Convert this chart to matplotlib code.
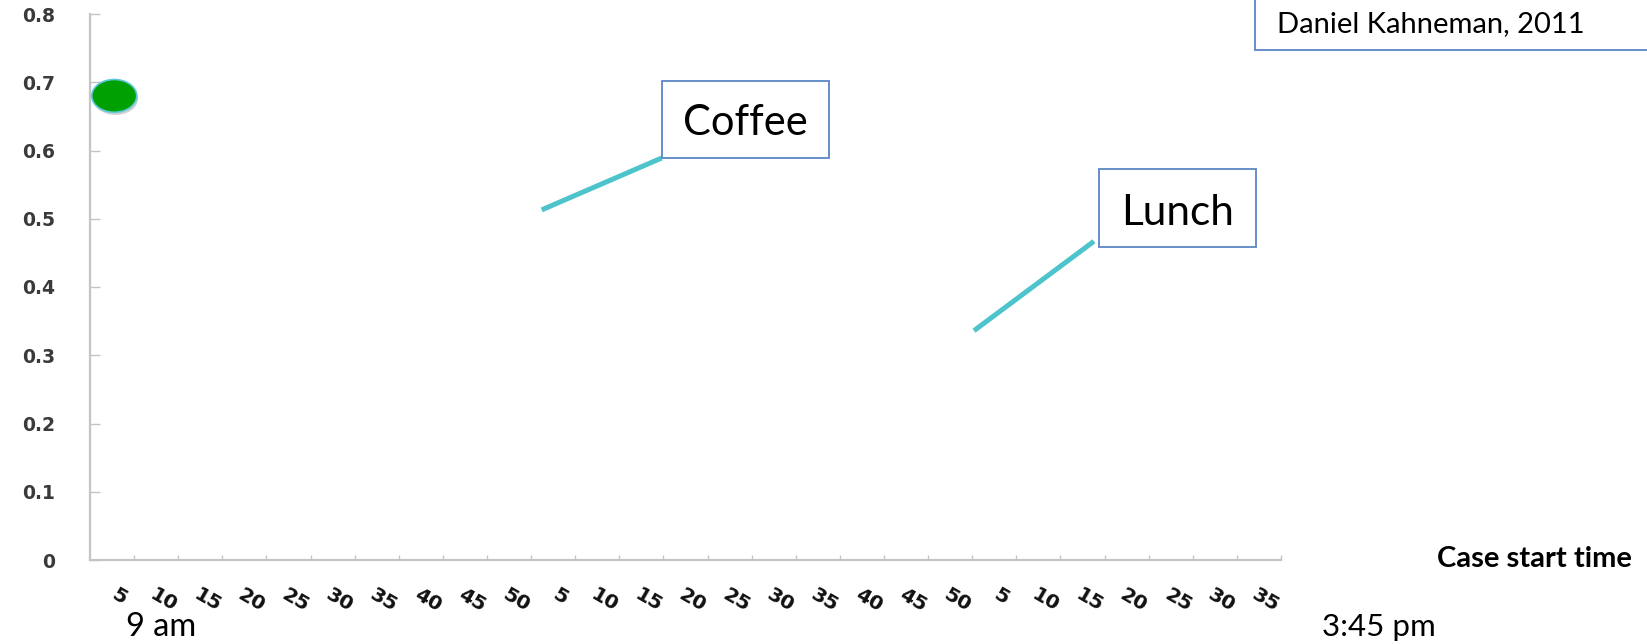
import numpy as np
import matplotlib
matplotlib.use("Agg")
import matplotlib.pyplot as plt
from matplotlib.patches import Ellipse, Rectangle
from matplotlib.transforms import ScaledTranslation

W, H = 1647, 644

# x categories (5-minute steps) and their labels
x_pos = np.arange(1, 28)
x_labels = ["5", "10", "15", "20", "25", "30", "35", "40", "45", "50",
            "5", "10", "15", "20", "25", "30", "35", "40", "45", "50",
            "5", "10", "15", "20", "25", "30", "35"]

y_ticks = [0, 0.1, 0.2, 0.3, 0.4, 0.5, 0.6, 0.7, 0.8]
y_labels = ["0", "0.1", "0.2", "0.3", "0.4", "0.5", "0.6", "0.7", "0.8"]

# start-of-day point
dot_x = [0.55]
dot_y = [0.68]

# callout leader lines
coffee_x = [10.24, 12.96]
coffee_y = [0.513, 0.589]
lunch_x = [20.04, 22.76]
lunch_y = [0.336, 0.467]

calibri = ["Lato", "DejaVu Sans"]
box_col = "#5A86C5"
line_col = "#4DC4CB"
axis_col = "#C4C4C4"


def fx(px):
    return px / W


def fy(py):
    return 1 - py / H


fig = plt.figure(figsize=(W / 100, H / 100), dpi=100)
ax = fig.add_axes([fx(90), fy(560), (1281 - 90) / W, (560 - 14) / H])

ax.set_xlim(0, 27)
ax.set_ylim(0, 0.8)

for side in ["top", "right"]:
    ax.spines[side].set_visible(False)
for side in ["left", "bottom"]:
    ax.spines[side].set_color(axis_col)
    ax.spines[side].set_linewidth(1.6)

ax.set_yticks(y_ticks)
ax.set_yticklabels(y_labels, fontfamily="DejaVu Sans", fontweight="bold",
                   fontsize=13.5, color="#3a3a3a")
ax.tick_params(axis="y", direction="in", length=7, width=1, color=axis_col, pad=25)

ax.set_xticks(x_pos)
ax.set_xticklabels(x_labels, rotation=-30, fontfamily="DejaVu Sans",
                   fontweight="bold", fontsize=14.5, color="#111111")
ax.tick_params(axis="x", direction="in", length=3.5, width=1, color=axis_col, pad=18)
shift = ScaledTranslation(-15 / 100, 0, fig.dpi_scale_trans)
for lab in ax.get_xticklabels():
    lab.set_transform(lab.get_transform() + shift)

# green point (drawn as ellipse like the slide)
shadow = Ellipse((dot_x[0] + 0.03, dot_y[0] - 0.004), 1.02, 0.048,
                 facecolor="#000000", alpha=0.18, edgecolor="none", clip_on=False)
ax.add_patch(shadow)
dot = Ellipse((dot_x[0], dot_y[0]), 1.02, 0.048, facecolor="#00A000",
              edgecolor="#5BC8D8", linewidth=1.2, clip_on=False, zorder=3)
ax.add_patch(dot)

ax.plot(coffee_x, coffee_y, color=line_col, linewidth=3.6, solid_capstyle="butt")
ax.plot(lunch_x, lunch_y, color=line_col, linewidth=3.6, solid_capstyle="butt")

# callout boxes
def box(x0, y0, x1, y1):
    r = Rectangle((fx(x0), fy(y1)), fx(x1) - fx(x0), fy(y0) - fy(y1),
                  transform=fig.transFigure, facecolor="white",
                  edgecolor=box_col, linewidth=1.3, clip_on=False)
    fig.patches.append(r)


box(662, 81, 829, 158)
fig.text(fx(745.5), fy(135), "Coffee", family=calibri, fontsize=30,
         ha="center", va="baseline")
box(1099, 169, 1256, 247)
fig.text(fx(1177.5), fy(225), "Lunch", family=calibri, fontsize=30.5,
         ha="center", va="baseline")

box(1255, -10, 1700, 50)
fig.text(fx(1277), fy(32), "Daniel Kahneman, 2011", family=calibri,
         fontsize=21, ha="left", va="baseline")

fig.text(fx(1437), fy(567), "Case start time", family=calibri, fontsize=21,
         fontweight="bold", ha="left", va="baseline")
fig.text(fx(126), fy(636), "9 am", family=calibri, fontsize=23.5,
         ha="left", va="baseline")
fig.text(fx(1322), fy(636), "3:45 pm", family=calibri, fontsize=22.5,
         ha="left", va="baseline")

fig.savefig("out.png", dpi=100, facecolor="white")
